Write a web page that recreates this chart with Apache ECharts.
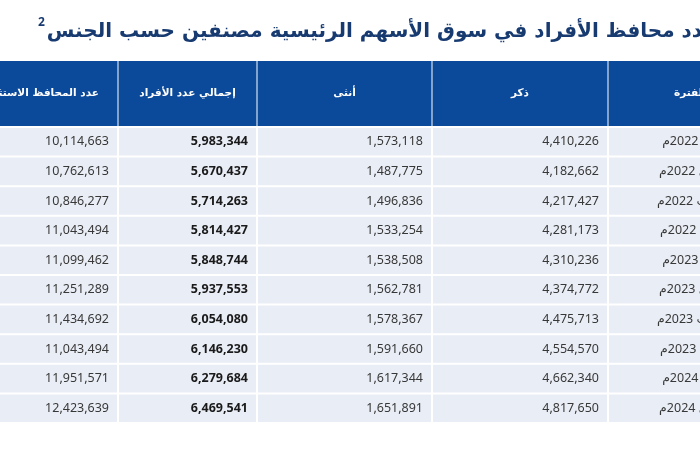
<!DOCTYPE html>
<html lang="ar">
<head>
<meta charset="utf-8">
<script src="https://cdn.jsdelivr.net/npm/echarts@6/dist/echarts.min.js"></script>
<style>
  html, body { margin: 0; padding: 0; background: #fff; }
  #main { width: 700px; height: 450px; }
</style>
</head>
<body>
<div id="main"></div>
<script>
const periods = [
  'الربع الأول 2022م', 'الربع الثاني 2022م', 'الربع الثالث 2022م', 'الربع الرابع 2022م',
  'الربع الأول 2023م', 'الربع الثاني 2023م', 'الربع الثالث 2023م', 'الربع الرابع 2023م',
  'الربع الأول 2024م', 'الربع الثاني 2024م'
];
const portfolios = [10114663, 10762613, 10846277, 11043494, 11099462, 11251289, 11434692, 11043494, 11951571, 12423639];
const totals = [5983344, 5670437, 5714263, 5814427, 5848744, 5937553, 6054080, 6146230, 6279684, 6469541];
const female = [1573118, 1487775, 1496836, 1533254, 1538508, 1562781, 1578367, 1591660, 1617344, 1651891];
const male = [4410226, 4182662, 4217427, 4281173, 4310236, 4374772, 4475713, 4554570, 4662340, 4817650];
const headers = ['عدد المحافظ الاستثمارية', 'إجمالي عدد الأفراد', 'أنثى', 'ذكر', 'الفترة'];
const titleText = 'عدد محافظ الأفراد في سوق الأسهم الرئيسية مصنفين حسب الجنس';
const footnote = '2';

// columns left to right, as in the picture (the outer two run off the edges)
const columns = [portfolios, totals, female, male, periods];
const colEdges = [-48, 118, 257, 432, 608, 772];
const headerHeight = 65;

const numFont = "'Noto Sans', 'DejaVu Sans', sans-serif";
const arFont = "'DejaVu Sans', sans-serif";

let cells = [];
for (let r = 0; r < periods.length; r++) {
  for (let c = 0; c < columns.length; c++) cells.push([c, r]);
}

const chart = echarts.init(document.getElementById('main'));

chart.setOption({
  animation: false,
  title: {
    text: '{s|' + footnote + '}{t|' + titleText + '}',
    right: -22,
    top: 12,
    textStyle: {
      rich: {
        t: { fontFamily: arFont, fontWeight: 'bold', fontSize: 20, color: '#173a70', lineHeight: 30 },
        s: { fontFamily: numFont, fontWeight: 'bold', fontSize: 12, color: '#173a70', verticalAlign: 'top', lineHeight: 30, padding: [0, 2, 0, 0] }
      }
    }
  },
  grid: { left: 0, right: 0, top: 127, bottom: 27 },
  xAxis: { type: 'value', min: 0, max: 700, show: false },
  yAxis: { type: 'category', data: periods, inverse: true, show: false },
  series: [
    {
      type: 'custom',
      clip: false,
      data: headers.map((h, i) => [i, 0]),
      renderItem(params, api) {
        const c = api.value(0);
        const x0 = api.coord([colEdges[c], 0])[0];
        const x1 = api.coord([colEdges[c + 1], 0])[0];
        const top = api.coord([0, 0])[1] - api.size([0, 1])[1] / 2;
        return {
          type: 'group',
          children: [
            {
              type: 'rect',
              shape: { x: x0 + 0.5, y: top - headerHeight - 1, width: x1 - x0 - 1, height: headerHeight },
              style: { fill: '#0b4a9a' }
            },
            {
              type: 'text',
              style: {
                text: headers[c],
                x: (x0 + x1) / 2,
                y: top - headerHeight / 2 - 1,
                align: 'center',
                verticalAlign: 'middle',
                fill: '#ffffff',
                font: 'bold 10.5px ' + arFont
              }
            }
          ]
        };
      }
    },
    {
      type: 'custom',
      clip: false,
      data: cells,
      renderItem(params, api) {
        const c = api.value(0), r = api.value(1);
        const x0 = api.coord([colEdges[c], r])[0];
        const x1 = api.coord([colEdges[c + 1], r])[0];
        const yc = api.coord([0, r])[1];
        const h = api.size([0, 1])[1];
        const v = columns[c][r];
        const isText = typeof v === 'string';
        return {
          type: 'group',
          children: [
            {
              type: 'rect',
              shape: { x: x0 + 1, y: yc - h / 2 + 1, width: x1 - x0 - 2, height: h - 2 },
              style: { fill: '#e9edf5' }
            },
            {
              type: 'text',
              style: {
                text: isText ? v : echarts.format.addCommas(v),
                x: x1 - (isText ? 17 : 9),
                y: yc,
                align: 'right',
                verticalAlign: 'middle',
                fill: c === 1 ? '#1a1a1a' : '#383838',
                font: (c === 1 ? 'bold ' : '') + '12.5px ' + numFont
              }
            }
          ]
        };
      }
    }
  ]
});
</script>
</body>
</html>
